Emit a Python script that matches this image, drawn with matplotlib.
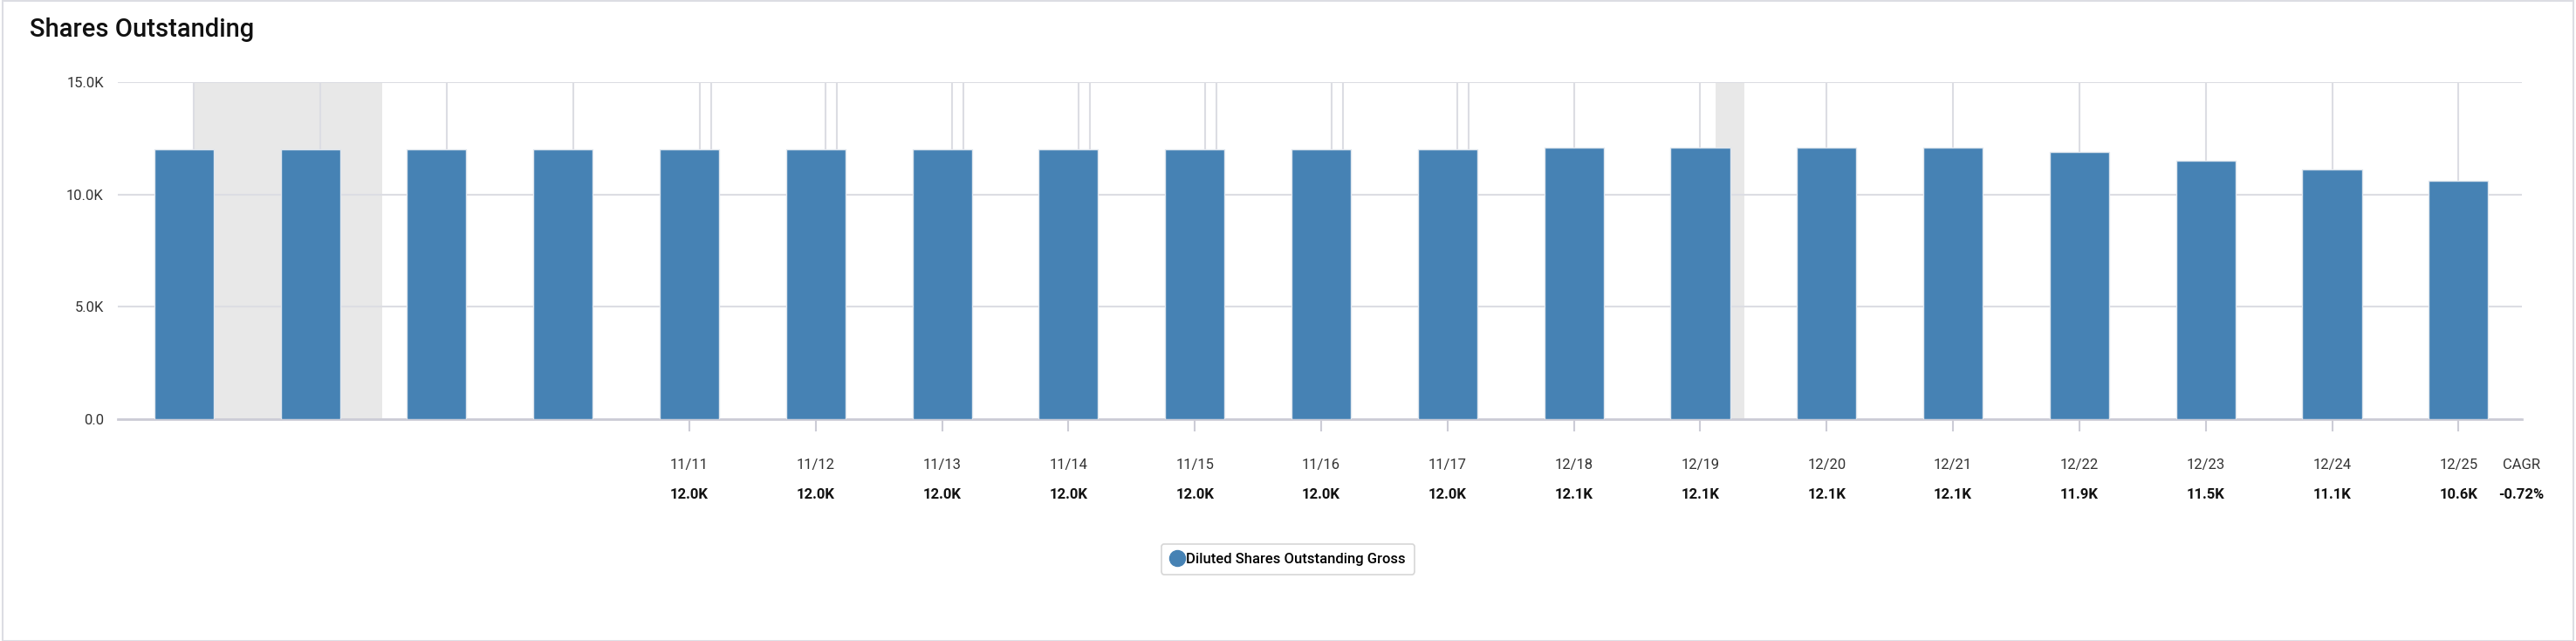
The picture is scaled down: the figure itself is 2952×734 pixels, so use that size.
import matplotlib
matplotlib.use("Agg")
import matplotlib.pyplot as plt
from matplotlib.patches import Rectangle, FancyBboxPatch

plt.rcParams['font.family'] = ['Roboto', 'DejaVu Sans']

periods = ["", "", "", "", "11/11", "11/12", "11/13", "11/14", "11/15", "11/16", "11/17",
           "12/18", "12/19", "12/20", "12/21", "12/22", "12/23", "12/24", "12/25"]
values = [12.0, 12.0, 12.0, 12.0, 12.0, 12.0, 12.0, 12.0, 12.0, 12.0, 12.0,
          12.1, 12.1, 12.1, 12.1, 11.9, 11.5, 11.1, 10.6]
value_labels = ["", "", "", "", "12.0K", "12.0K", "12.0K", "12.0K", "12.0K", "12.0K", "12.0K",
                "12.1K", "12.1K", "12.1K", "12.1K", "11.9K", "11.5K", "11.1K", "10.6K"]
cagr_label = "-0.72%"
series_name = "Diluted Shares Outstanding Gross"
yticks = [0, 5, 10, 15]
ytick_labels = ["0.0", "5.0K", "10.0K", "15.0K"]
shaded = [(0.08, 1.57), (12.12, 12.35)]

fig = plt.figure(figsize=(29.52, 7.34), dpi=100)
fig.patches.append(Rectangle((0.001, 0), 0.998, 0.999, transform=fig.transFigure,
                             fill=False, edgecolor="#dcdde3", lw=1.5))
ax = fig.add_axes([0.0459, 0.346, 0.933, 0.526])
n = len(values)
x = list(range(n))
for a, b in shaded:
    ax.axvspan(a, b, color="#e8e8e8", zorder=0, lw=0)
for i in x:
    off = 0.08 if i < 11 else 0.0
    ax.axvline(i + off, color="#dcdde3", lw=1.5, zorder=1)
    if 4 <= i <= 10:
        ax.axvline(i + 0.17, color="#dcdde3", lw=1.5, zorder=1)
ax.bar(x, values, width=0.47, color="#4682b4", edgecolor="#dfe6ee", lw=1, zorder=3)
ax.set_xlim(-0.52, 18.5)
ax.set_ylim(0, 15)
ax.set_yticks(yticks)
ax.set_yticklabels(ytick_labels, fontsize=12, color="#333333")
ax.yaxis.grid(True, color="#dcdde3", lw=1.5)
ax.set_axisbelow(True)
for s in ["top", "right", "left"]:
    ax.spines[s].set_visible(False)
ax.spines["bottom"].set_color("#ccccd6")
ax.spines["bottom"].set_linewidth(2)
ax.tick_params(axis="y", length=0, pad=12)
tick_pos = [i for i in x if periods[i]]
ax.set_xticks(tick_pos)
ax.set_xticklabels([])
ax.tick_params(axis="x", length=10, color="#ccccd6", width=1.5)
for i in x:
    if periods[i]:
        ax.text(i, -0.135, periods[i], transform=ax.get_xaxis_transform(), ha="center",
                va="center", fontsize=12, color="#333333")
        ax.text(i, -0.225, value_labels[i], transform=ax.get_xaxis_transform(), ha="center",
                va="center", fontsize=12, fontweight="bold", color="#111111")
ax.text(n - 1 + 0.5, -0.135, "CAGR", transform=ax.get_xaxis_transform(), ha="center",
        va="center", fontsize=12, color="#333333")
ax.text(n - 1 + 0.5, -0.225, cagr_label, transform=ax.get_xaxis_transform(), ha="center",
        va="center", fontsize=12, fontweight="bold", color="#111111")

fig.text(0.0115, 0.953, "Shares Outstanding", fontsize=21, fontweight="medium",
         color="#111111", va="center", ha="left")

leg = ax.legend([plt.Line2D([], [], marker="o", ls="", color="#4682b4", markersize=13)],
                [series_name], loc="center", bbox_to_anchor=(0.5, 0.128),
                bbox_transform=fig.transFigure, fontsize=12, frameon=True,
                handletextpad=0.1, borderpad=0.6, handlelength=1.0)
leg.get_frame().set_edgecolor("#cccccc")
leg.get_frame().set_linewidth(1.2)
for t in leg.get_texts():
    t.set_fontweight("medium")

fig.savefig("out.png", dpi=100)
